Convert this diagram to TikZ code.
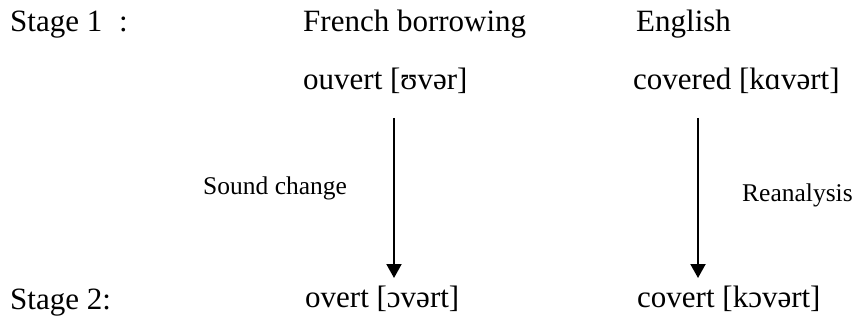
\documentclass[tikz,border=0pt]{standalone}
\usepackage{fontspec}
\setmainfont{Liberation Serif}
\usetikzlibrary{arrows.meta}

\tikzset{
  word/.style={anchor=base west, inner sep=0pt, font=\fontsize{31}{36}\selectfont},
  note/.style={anchor=base west, inner sep=0pt, font=\fontsize{25.5}{30}\selectfont},
  change/.style={line width=2pt, -{Triangle[width=15pt, length=14pt]}}
}

\begin{document}
\begin{tikzpicture}[x=1pt, y=-1pt]
  \useasboundingbox (0,0) rectangle (856,320);

  % Stage 1
  \node[word] (st1) at (10,32) {Stage 1};
  \node[word] (col1) at (119,32) {:};
  \node[word] (french) at (303,32) {French borrowing};
  \node[word] (english) at (636,32) {English};
  \node[word] (ouvert) at (303,90) {ouvert [ʊvər]};
  \node[word] (covered) at (633,90) {covered [kɑvərt]};

  % Stage 2
  \node[word] (st2) at (10,309) {Stage 2:};
  \node[word] (overt) at (305,307) {overt [ɔvərt]};
  \node[word] (covert) at (637,307) {covert [kɔvərt]};

  % Pfeile
  \coordinate (s1) at (394,118);
  \coordinate (e1) at (394,278);
  \coordinate (s2) at (698,118);
  \coordinate (e2) at (698,278);
  \draw[change] (s1) -- (e1);
  \draw[change] (s2) -- (e2);

  % Labels
  \node[note] (sound) at (203,195) {Sound change};
  \node[note] (reana) at (742,202) {Reanalysis};

\end{tikzpicture}
\end{document}
